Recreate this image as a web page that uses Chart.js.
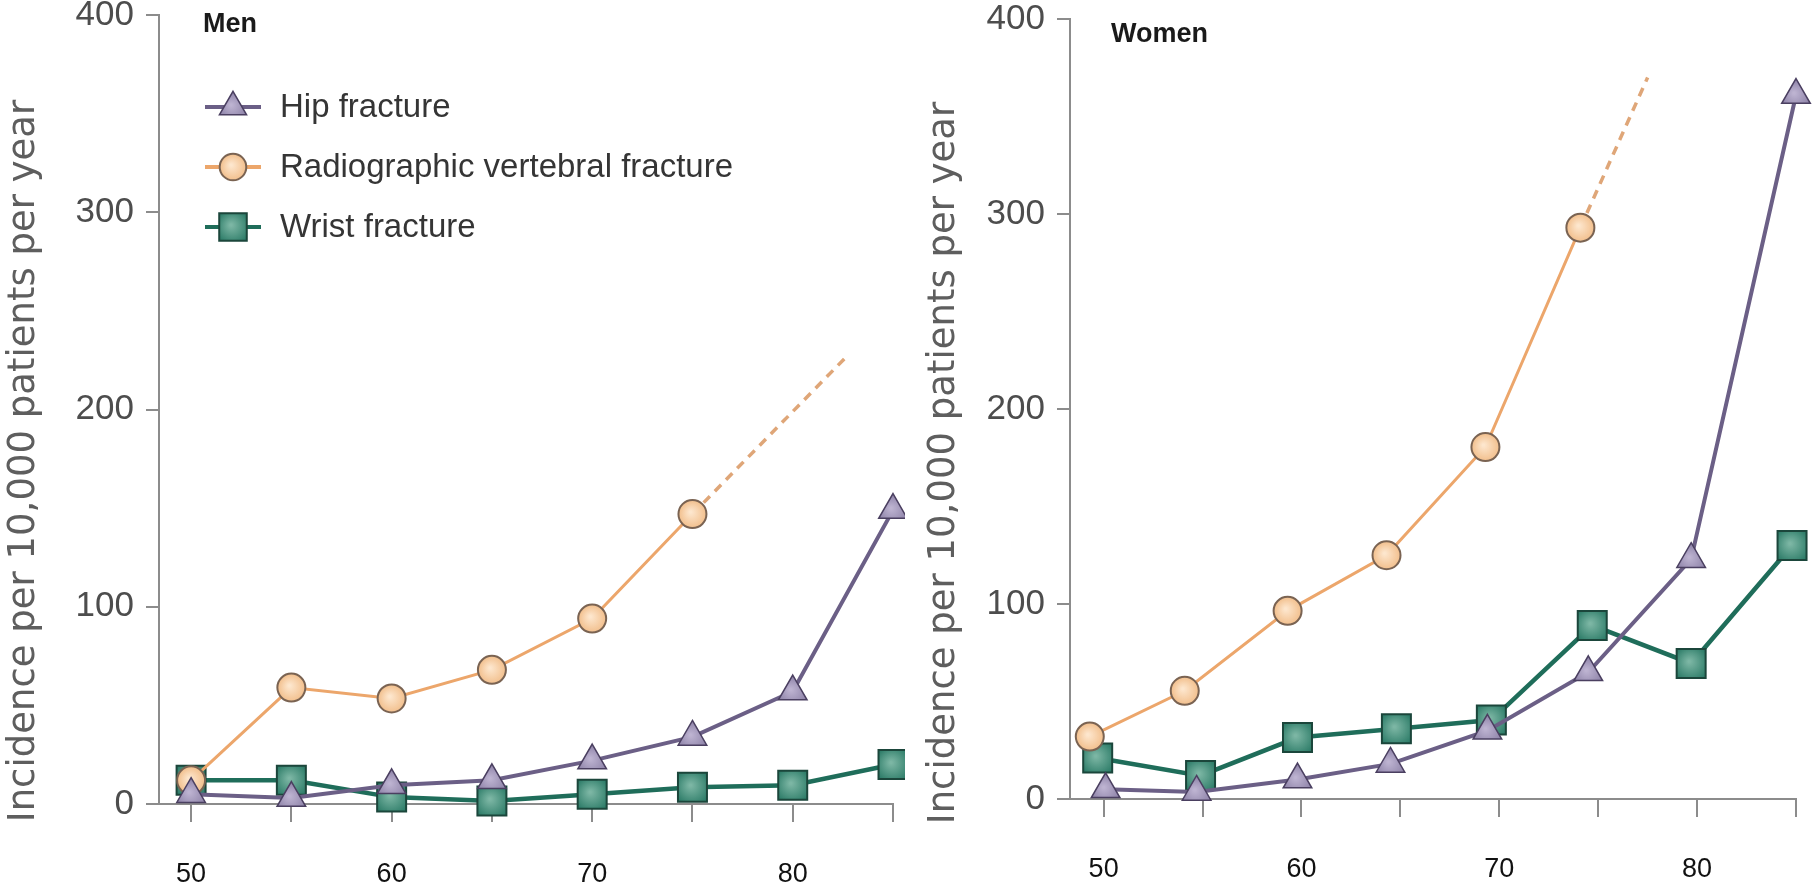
<!DOCTYPE html>
<html>
<head>
<meta charset="utf-8">
<title>Fracture incidence by age</title>
<script src="https://cdn.jsdelivr.net/npm/chart.js@4.4.1/dist/chart.umd.min.js"></script>
<style>
  html, body { margin: 0; padding: 0; background: #ffffff; }
  #wrap { position: relative; width: 1816px; height: 896px; overflow: hidden; background: #ffffff; }
  canvas { position: absolute; top: 0; }
  #men { left: 0; }
  #women { left: 905px; }
</style>
</head>
<body>
<div id="wrap">
  <canvas id="men" width="905" height="896"></canvas>
  <canvas id="women" width="911" height="896"></canvas>
</div>
<script>
// ---- axis ticks and labels ----
const ageTicks = [50, 55, 60, 65, 70, 75, 80, 85];
const ageTickLabels = ['50', '', '60', '', '70', '', '80', ''];
const incidenceTicks = [0, 100, 200, 300, 400];
const seriesNames = ['Hip fracture', 'Radiographic vertebral fracture', 'Wrist fracture'];
const panelTitles = ['Men', 'Women'];
const yAxisTitle = 'Incidence per 10,000 patients per year';

// ---- Men (incidence per 10,000 per year) ----
const menAges = [50, 55, 60, 65, 70, 75, 80, 85];
const menHip = [5, 3, 9.5, 12, 22, 34, 57, 149];
const menVertebralAges = [50, 55, 60, 65, 70, 75];
const menVertebral = [12, 59, 53.5, 68, 94, 147];
const menVertebralTrendAges = [75, 82.7];
const menVertebralTrend = [147, 227];
const menWrist = [12, 12, 3.5, 1.5, 5, 8.5, 9.5, 20];

// ---- Women (incidence per 10,000 per year) ----
const womenHipAges = [50.1, 54.7, 59.8, 64.5, 69.4, 74.5, 79.7, 85];
const womenHip = [5, 3.6, 10, 18, 35, 65, 123, 361];
const womenVertebralAges = [49.3, 54.1, 59.3, 64.3, 69.3, 74.1];
const womenVertebral = [32, 55.5, 96.5, 125, 180.5, 293];
const womenVertebralTrendAges = [74.1, 77.5];
const womenVertebralTrend = [293, 370];
const womenWristAges = [49.7, 54.9, 59.8, 64.8, 69.6, 74.7, 79.7, 84.8];
const womenWrist = [21, 12, 31.5, 36, 40.5, 89, 69.5, 130];

const pts = (xs, ys) => xs.map((x, i) => ({ x: x, y: ys[i] }));

// ---- series styling ----
const STYLE = {
  hip:   { line: '#6b5f86', width: 4,   fill: '#8f84a9', light: '#bdb3d1', edge: '#4a3f60', shape: 'triangle', radius: 16.5, edgeWidth: 1.5 },
  vert:  { line: '#eca66b', width: 3,   fill: '#f3c393', light: '#fde6cd', edge: '#7a6352', shape: 'circle',   radius: 14,   edgeWidth: 2, trend: '#dfa678' },
  wrist: { line: '#1f6d5a', width: 4.5, fill: '#2d7c68', light: '#7cb6a4', edge: '#1b463b', shape: 'rect',     radius: 20.5, edgeWidth: 2 }
};

function markerShade(chartCtx, style, px, py, r) {
  if (!isFinite(px) || !isFinite(py)) return style.fill;
  const g = chartCtx.createRadialGradient(px - 2, py - 2, 1, px, py, r);
  g.addColorStop(0, style.light);
  g.addColorStop(1, style.fill);
  return g;
}

function shaded(style) {
  return (c) => {
    const chart = c.chart;
    const raw = c.raw;
    if (!raw || !chart.scales || !chart.scales.x || !chart.scales.y) return style.fill;
    const px = chart.scales.x.getPixelForValue(raw.x);
    const py = chart.scales.y.getPixelForValue(raw.y);
    return markerShade(chart.ctx, style, px, py, style.radius * 0.9);
  };
}

function seriesDataset(label, style, data, order) {
  return {
    label: label, data: data, order: order,
    borderColor: style.line, borderWidth: style.width,
    pointStyle: style.shape, pointRadius: style.radius, pointHoverRadius: style.radius,
    pointBackgroundColor: shaded(style), pointBorderColor: style.edge, pointBorderWidth: style.edgeWidth,
    tension: 0, fill: false, clip: false
  };
}

function trendDataset(style, data) {
  return {
    label: 'trend', data: data, order: 1.5,
    borderColor: style.trend, borderWidth: 3.5, borderDash: [9, 7],
    pointRadius: 0, pointHoverRadius: 0, tension: 0, fill: false, clip: false
  };
}

// ---- panel title, vertical axis title and key ----
const panelText = {
  id: 'panelText',
  afterDraw(chart, args, o) {
    const ctx = chart.ctx;
    ctx.save();
    ctx.font = 'bold 27px "Liberation Sans", Arial, sans-serif';
    ctx.fillStyle = '#1a1a1a';
    ctx.textBaseline = 'middle';
    ctx.textAlign = 'left';
    ctx.fillText(o.title, o.titleX, o.titleY);

    ctx.translate(o.yTitleX, o.yTitleY);
    ctx.rotate(-Math.PI / 2);
    ctx.font = '37px "DejaVu Sans", Verdana, sans-serif';
    ctx.fillStyle = '#5e5e5e';
    ctx.textAlign = 'center';
    ctx.textBaseline = 'middle';
    ctx.fillText(yAxisTitle, 0, 0);
    ctx.restore();

    if (o.key) {
      const styles = [STYLE.hip, STYLE.vert, STYLE.wrist];
      const k = o.key;
      styles.forEach((s, i) => {
        const y = k.y0 + i * k.dy;
        ctx.save();
        ctx.strokeStyle = s.line;
        ctx.lineWidth = 4;
        ctx.beginPath();
        ctx.moveTo(k.x0, y);
        ctx.lineTo(k.x1, y);
        ctx.stroke();
        const mx = (k.x0 + k.x1) / 2;
        const r = s.radius * 0.95;
        ctx.fillStyle = markerShade(ctx, s, mx, y, r * 0.9);
        ctx.strokeStyle = s.edge;
        ctx.lineWidth = s.edgeWidth;
        Chart.helpers.drawPoint(ctx, { pointStyle: s.shape, radius: r, rotation: 0, borderWidth: s.edgeWidth }, mx, y);
        ctx.restore();
        ctx.save();
        ctx.font = '33px "Liberation Sans", Arial, sans-serif';
        ctx.fillStyle = '#353535';
        ctx.textAlign = 'left';
        ctx.textBaseline = 'middle';
        ctx.fillText(seriesNames[i], k.textX, y + 1);
        ctx.restore();
      });
    }
  }
};

function buildOptions(cfg) {
  const axisGray = '#8c8c8c';
  return {
    responsive: false,
    animation: false,
    events: [],
    layout: { autoPadding: false, padding: { top: cfg.top, right: cfg.right, left: 0, bottom: 0 } },
    plugins: {
      legend: { display: false },
      tooltip: { enabled: false },
      panelText: cfg.text
    },
    scales: {
      x: {
        type: 'linear', min: cfg.xMin, max: 85,
        afterBuildTicks: (s) => { s.ticks = ageTicks.map((v) => ({ value: v })); },
        afterFit: (s) => { s.height = cfg.xHeight; s.paddingLeft = 0; s.paddingRight = 0; },
        ticks: {
          autoSkip: false, maxRotation: 0, minRotation: 0, padding: 36,
          color: '#111111',
          font: { family: '"Liberation Sans", Arial, sans-serif', size: 27 },
          callback: (v, i) => ageTickLabels[i]
        },
        grid: { drawOnChartArea: false, drawTicks: true, tickLength: 18, color: axisGray, lineWidth: 2 },
        border: { display: true, color: axisGray, width: 2 }
      },
      y: {
        type: 'linear', min: 0, max: 400,
        afterBuildTicks: (s) => { s.ticks = incidenceTicks.map((v) => ({ value: v })); },
        afterFit: (s) => { s.width = cfg.yWidth; s.paddingTop = 0; s.paddingBottom = 0; },
        ticks: {
          padding: 12, color: '#4d4d4d',
          font: { family: '"Liberation Sans", Arial, sans-serif', size: 35 }
        },
        grid: { drawOnChartArea: false, drawTicks: true, tickLength: 13, color: axisGray, lineWidth: 2 },
        border: { display: true, color: axisGray, width: 2 }
      }
    }
  };
}

function draw() {
  new Chart(document.getElementById('men'), {
    type: 'line',
    data: {
      datasets: [
        seriesDataset(seriesNames[0], STYLE.hip, pts(menAges, menHip), 0),
        seriesDataset(seriesNames[1], STYLE.vert, pts(menVertebralAges, menVertebral), 1),
        trendDataset(STYLE.vert, pts(menVertebralTrendAges, menVertebralTrend)),
        seriesDataset(seriesNames[2], STYLE.wrist, pts(menAges, menWrist), 2)
      ]
    },
    options: buildOptions({
      top: 15, right: 12, xHeight: 92, yWidth: 159, xMin: 48.4,
      text: {
        title: panelTitles[0], titleX: 203, titleY: 25,
        yTitleX: 24, yTitleY: 461,
        key: { x0: 205, x1: 261, textX: 280, y0: 107, dy: 60 }
      }
    }),
    plugins: [panelText]
  });

  new Chart(document.getElementById('women'), {
    type: 'line',
    data: {
      datasets: [
        seriesDataset(seriesNames[0], STYLE.hip, pts(womenHipAges, womenHip), 0),
        seriesDataset(seriesNames[1], STYLE.vert, pts(womenVertebralAges, womenVertebral), 1),
        trendDataset(STYLE.vert, pts(womenVertebralTrendAges, womenVertebralTrend)),
        seriesDataset(seriesNames[2], STYLE.wrist, pts(womenWristAges, womenWrist), 2)
      ]
    },
    options: buildOptions({
      top: 19, right: 20, xHeight: 97, yWidth: 165, xMin: 48.3,
      text: {
        title: panelTitles[1], titleX: 206, titleY: 35,
        yTitleX: 39, yTitleY: 463
      }
    }),
    plugins: [panelText]
  });
}

const fontLoads = [
  '27px "Liberation Sans"', 'bold 27px "Liberation Sans"', '37px "DejaVu Sans"'
].map((f) => (document.fonts && document.fonts.load ? document.fonts.load(f).catch(() => null) : Promise.resolve()));
Promise.all(fontLoads).then(draw, draw);
</script>
</body>
</html>
